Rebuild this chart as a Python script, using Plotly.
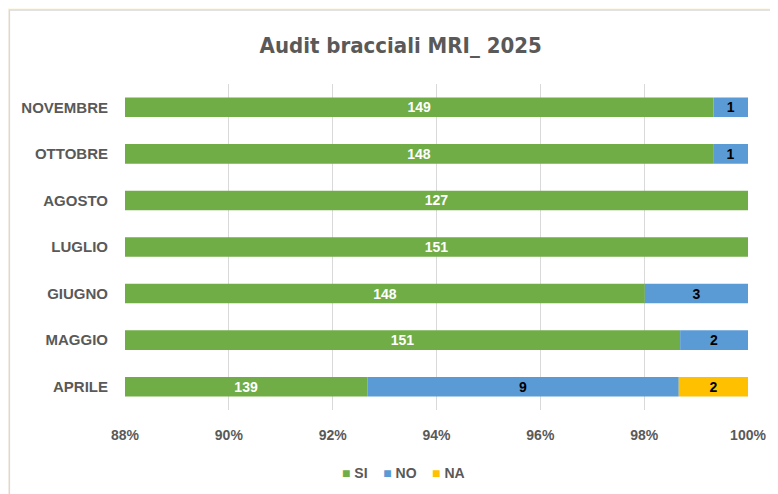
import plotly.graph_objects as go

months = ["APRILE", "MAGGIO", "GIUGNO", "LUGLIO", "AGOSTO", "OTTOBRE", "NOVEMBRE"]
si = [139, 151, 148, 151, 127, 148, 149]
no = [9, 2, 3, 0, 0, 1, 1]
na = [2, 0, 0, 0, 0, 0, 0]
series_names = ["SI", "NO", "NA"]
series_colors = ["#70AD47", "#5B9BD5", "#FFC000"]
x_ticks = [88, 90, 92, 94, 96, 98, 100]
x_min = 88

tot = [a + b + c for a, b, c in zip(si, no, na)]
si_p = [a / t * 100 for a, t in zip(si, tot)]
no_p = [b / t * 100 for b, t in zip(no, tot)]
na_p = [c / t * 100 for c, t in zip(na, tot)]

def lbl(v):
    return [str(x) if x else "" for x in v]

GRAY = "#595959"
FONT = "Liberation Sans, Arial"
BW = 0.42

fig = go.Figure()
traces = [
    (si, [p - x_min for p in si_p], [x_min] * len(months), "white"),
    (no, no_p, si_p, "black"),
    (na, na_p, [a + b for a, b in zip(si_p, no_p)], "black"),
]
for (vals, widths, bases, tcol), name, col in zip(traces, series_names, series_colors):
    fig.add_trace(go.Bar(
        y=months, x=widths, base=bases, orientation="h",
        name=name, marker=dict(color=col, line=dict(width=0)),
        text=lbl(vals), textposition="inside", insidetextanchor="middle", textangle=0,
        textfont=dict(color=tcol, size=14, family=FONT, weight="bold"),
        constraintext="none", width=BW, showlegend=False))

legend_text = "&nbsp;&nbsp;&nbsp;&nbsp;".join(
    f"<span style='color:{c}'>■</span> {n}" for n, c in zip(series_names, series_colors))

W, H = 770, 486
L, R, T, B = 117, 28, 76, 84
pw, ph = W - L - R, H - T - B

fig.update_layout(
    width=W, height=H,
    barmode="overlay",
    paper_bgcolor="#FFF9EC", plot_bgcolor="white",
    margin=dict(l=L, r=R, t=T, b=B),
    title=dict(text="Audit bracciali MRI_ 2025", x=0.510, xanchor="center", y=1 - 37 / H, yanchor="middle",
               font=dict(family="DejaVu Sans Condensed, Roboto", size=22, color=GRAY, weight="bold")),
    xaxis=dict(range=[88, 100], tickvals=x_ticks, ticktext=[f"{v}%" for v in x_ticks],
               showgrid=True, gridcolor="#D9D9D9", gridwidth=1.3, zeroline=False, showline=False,
               tickfont=dict(family=FONT, size=14, color=GRAY, weight="bold"),
               ticks="outside", ticklen=12, tickcolor="rgba(0,0,0,0)", fixedrange=True),
    yaxis=dict(categoryorder="array", categoryarray=months, showgrid=False, showline=False,
               tickfont=dict(family=FONT, size=15, color=GRAY, weight="bold"),
               ticks="outside", ticklen=13, tickcolor="rgba(0,0,0,0)"),
    showlegend=False,
    annotations=[dict(text=legend_text, xref="paper", yref="paper",
                      x=(396 - L) / pw, y=(T + ph - 465) / ph, xanchor="center", yanchor="middle",
                      showarrow=False, font=dict(family=FONT, size=14, color=GRAY, weight="bold"))],
    shapes=[dict(type="rect", xref="paper", yref="paper",
                 x0=(1 - L) / pw, x1=(W + 20 - L) / pw, y0=(T + ph - H - 20) / ph, y1=(T + ph - 2) / ph,
                 fillcolor="white", line=dict(color="#D9D9D9", width=1.5), layer="below")],
)

fig.write_html("out.html")
